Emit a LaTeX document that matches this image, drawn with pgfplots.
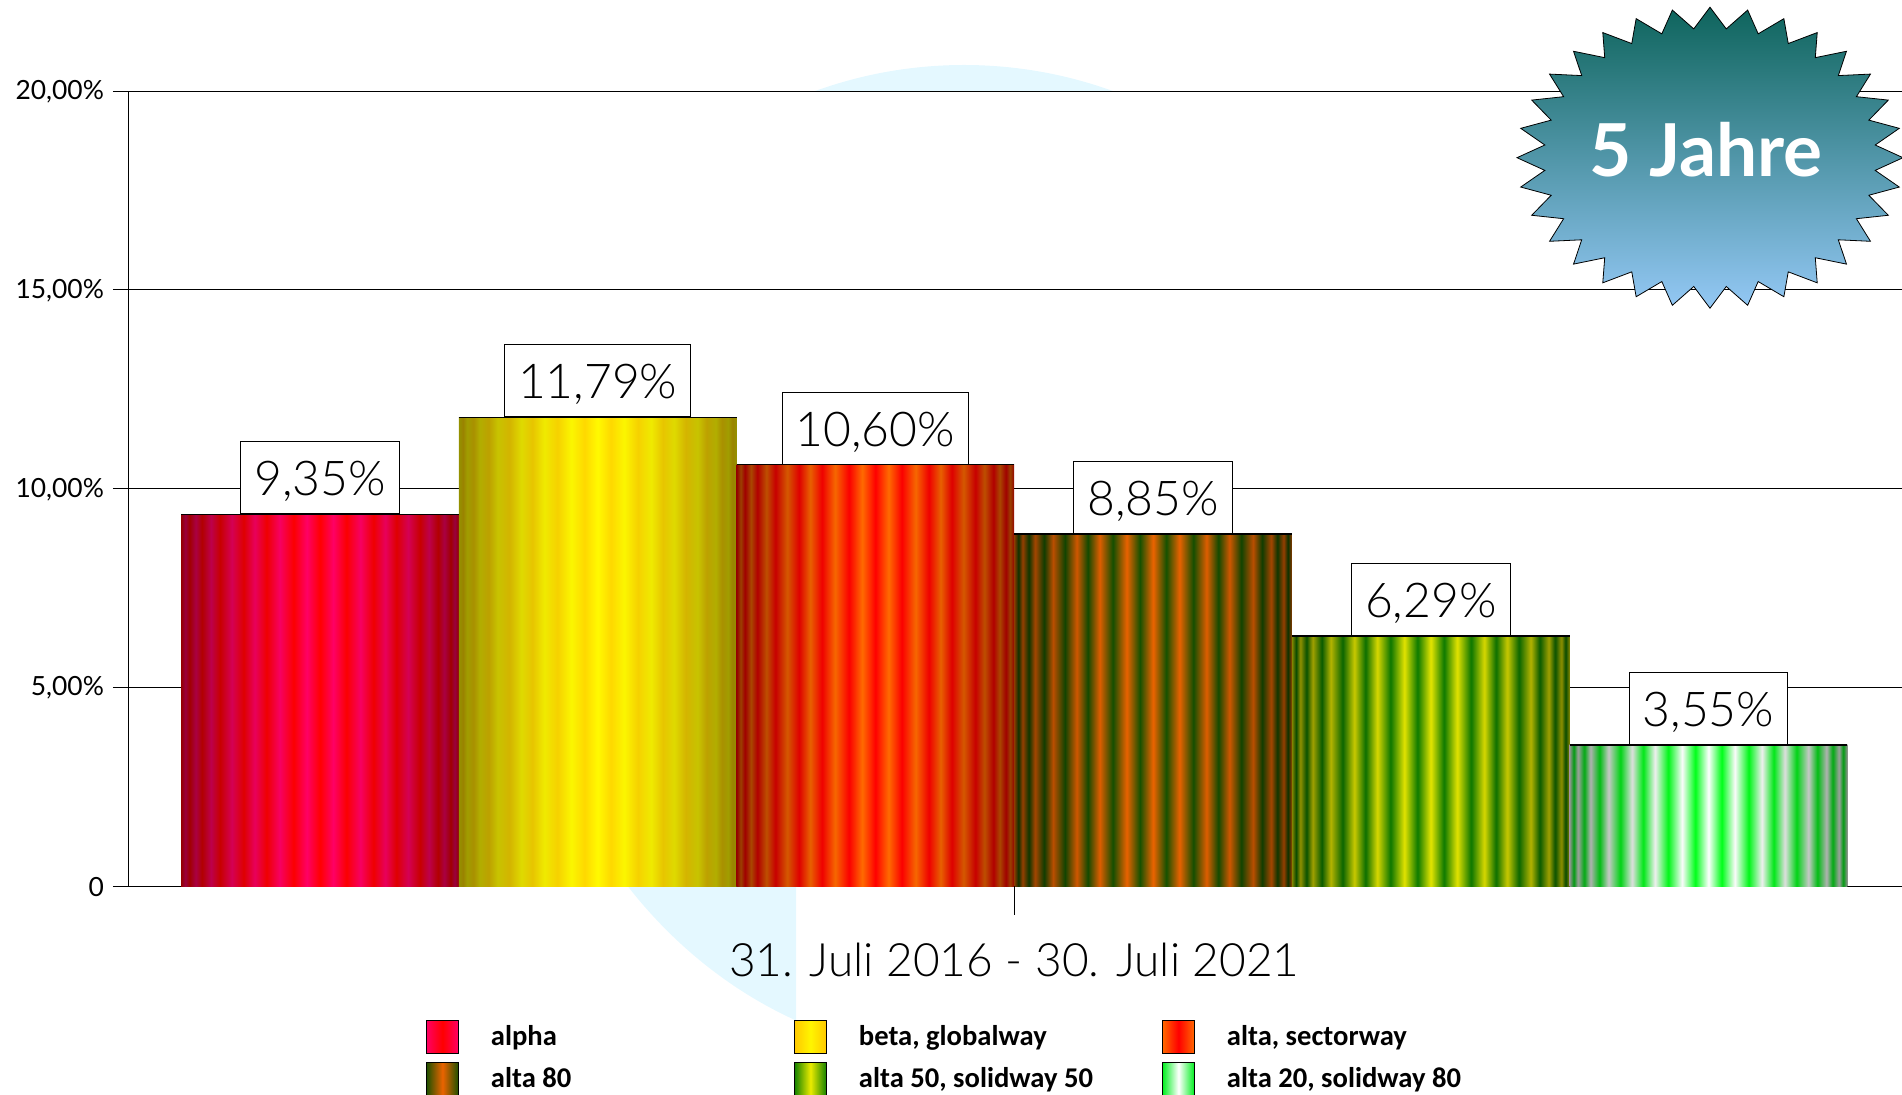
\documentclass[border=0pt]{standalone}
\usepackage{pgfplots}
\pgfplotsset{compat=1.18}
\usepackage{fontspec}
\setmainfont{Lato}
\newfontfamily\lightfont{Lato Light}
\newfontfamily\legendfont{Carlito}
\usetikzlibrary{shadings}

% stripes: peak colour #2,#3,#4 and trough colour #5,#6,#7, darker towards the edges
\newcommand\mkstripes[7]{%
  \pgfmathsetmacro\ra{0.55*#2}\pgfmathsetmacro\ga{0.55*#3}\pgfmathsetmacro\ba{0.55*#4}%
  \xdef\spec{rgb(0bp)=(\ra,\ga,\ba)}%
  \foreach \d/\k in {-1.0/1,-0.97/0,-0.94/1,-0.895/0,-0.85/1,-0.785/0,-0.72/1,-0.635/0,-0.55/1,-0.47/0,-0.385/1,-0.29/0,-0.19/1,-0.095/0,0.0/1,0.095/0,0.19/1,0.29/0,0.385/1,0.47/0,0.55/1,0.635/0,0.72/1,0.785/0,0.85/1,0.895/0,0.94/1,0.97/0,1.0/1}{%
    \pgfmathsetmacro\p{25+25*(1+\d)}%
    \pgfmathsetmacro\e{1-0.42*\d*\d}%
    \pgfmathsetmacro\r{\e*(\k*#2+(1-\k)*#5)}%
    \pgfmathsetmacro\g{\e*(\k*#3+(1-\k)*#6)}%
    \pgfmathsetmacro\b{\e*(\k*#4+(1-\k)*#7)}%
    \xdef\spec{\spec; rgb(\p bp)=(\r,\g,\b)}%
  }%
  \xdef\spec{\spec; rgb(100bp)=(\ra,\ga,\ba)}%
  \edef\tmp{\noexpand\pgfdeclarehorizontalshading{#1}{100bp}{\spec}}\tmp
}
\mkstripes{sA}{1}{0}{0}{1}{0}{0.4}
\mkstripes{sB}{1}{0.98}{0}{1}{0.85}{0}
\mkstripes{sC}{1}{0}{0}{1}{0.42}{0}
\mkstripes{sD}{0.93}{0.39}{0}{0.08}{0.32}{0}
\mkstripes{sE}{0.9}{0.9}{0}{0.05}{0.48}{0}
\mkstripes{sF}{1}{1}{1}{0}{1}{0.1}

\definecolor{star1}{RGB}{14,100,92}
\definecolor{star2}{RGB}{148,200,245}
\definecolor{blob}{RGB}{228,248,255}
\definecolor{eA}{RGB}{255,0,100}\definecolor{mA}{RGB}{255,0,0}
\definecolor{eB}{RGB}{255,200,0}\definecolor{mB}{RGB}{255,245,0}
\definecolor{eC}{RGB}{255,105,0}\definecolor{mC}{RGB}{255,0,0}
\definecolor{eD}{RGB}{30,80,0}\definecolor{mD}{RGB}{235,100,0}
\definecolor{eE}{RGB}{20,130,0}\definecolor{mE}{RGB}{235,235,0}
\definecolor{eF}{RGB}{0,240,30}\definecolor{mF}{RGB}{255,255,255}

\pgfplotsset{
  barA/.style={ybar,bar width=138.85pt,shade,shading=#1,draw=none,
    nodes near coords={\pgfmathprintnumber\pgfplotspointmeta\%},
    every node near coord/.append style={
      font=\lightfont\fontsize{24}{28}\selectfont,anchor=south,yshift=0pt,
      fill=white,draw=black,line width=0.5pt,inner xsep=6.8pt,inner ysep=0pt,
      text height=18pt,text depth=0pt,minimum height=36pt}},
  swatch/.style 2 args={legend image code/.code={%
    \node[draw=black,line width=0.5pt,inner sep=0pt,minimum width=16pt,minimum height=16.5pt,
      left color=#1,right color=#1,middle color=#2] at (8pt,0pt) {};}},
  barTop/.style={forget plot,black,line width=0.8pt},
}

\begin{document}
\begin{tikzpicture}
% pale disc behind the chart, px coordinates from the top left
\begin{scope}[x=0.5pt,y=-0.5pt,yshift=547pt]
  \begin{scope}
    \clip (0,0) rectangle (1902,91);
    \fill[blob] (964,560) ellipse [x radius=464,y radius=495];
  \end{scope}
  \begin{scope}
    \clip (0,886) rectangle (796,1094);
    \fill[blob] (964,562) ellipse [x radius=445,y radius=495];
  \end{scope}
\end{scope}
\begin{axis}[
  at={(64.5pt,104pt)}, anchor=south west,
  scale only axis, width=886.5pt, height=397.5pt,
  xmin=-0.6878, xmax=5.697, ymin=0, ymax=20,
  clip=false,
  axis x line=bottom, axis y line=left,
  axis line style={-,black,line width=0.5pt},
  ytick={0,5,10,15,20},
  yticklabels={0,{5,00\%},{10,00\%},{15,00\%},{20,00\%}},
  yticklabel style={font=\fontsize{13.2}{14}\selectfont,xshift=-1pt,yshift=-0.4pt},
  ymajorgrids, grid style={black,line width=0.5pt},
  major tick length=8pt,
  tick style={black,line width=0.5pt},
  tick align=outside,
  xtick={2.5},
  xticklabels={31. Juli 2016 - 30. Juli 2021},
  x tick style={draw=none},
  xticklabel style={font=\lightfont\fontsize{23}{27}\selectfont,yshift=-17pt},
  /pgf/number format/assume math mode=true,
  /pgf/number format/use comma,
  /pgf/number format/fixed,
  /pgf/number format/fixed zerofill,
  /pgf/number format/precision=2,
  legend columns=3,
  legend cell align=left,
  legend style={at={(axis description cs:0.1675,-0.1686)},anchor=north west,
    draw=none,fill=none,inner sep=0pt,outer sep=0pt,
    font=\legendfont\bfseries\fontsize{14.3}{15}\selectfont,
    /tikz/row sep=4pt,
    /tikz/column sep=0pt,
    nodes={inner sep=0pt,outer sep=0pt}},
]
\addplot[barA=sA,swatch={eA}{mA}] coordinates {(0,9.35)};
\addlegendentry{\hspace{16pt}\makebox[151.5pt][l]{alpha}}
\addplot[barA=sB,swatch={eB}{mB}] coordinates {(1,11.79)};
\addlegendentry{\hspace{16pt}\makebox[151.5pt][l]{beta, globalway}}
\addplot[barA=sC,swatch={eC}{mC}] coordinates {(2,10.60)};
\addlegendentry{\hspace{16pt}\makebox[151.5pt][l]{alta, sectorway}}
\addplot[barA=sD,swatch={eD}{mD}] coordinates {(3,8.85)};
\addlegendentry{\hspace{16pt}\makebox[151.5pt][l]{alta 80}}
\addplot[barA=sE,swatch={eE}{mE}] coordinates {(4,6.29)};
\addlegendentry{\hspace{16pt}\makebox[151.5pt][l]{alta 50, solidway 50}}
\addplot[barA=sF,swatch={eF}{mF}] coordinates {(5,3.55)};
\addlegendentry{\hspace{16pt}\makebox[151.5pt][l]{alta 20, solidway 80}}
% black top edge of each bar
\addplot[barTop] coordinates {(-0.5,9.35)(0.5,9.35)};
\addplot[barTop] coordinates {(0.5,11.79)(1.5,11.79)};
\addplot[barTop] coordinates {(1.5,10.60)(2.5,10.60)};
\addplot[barTop] coordinates {(2.5,8.85)(3.5,8.85)};
\addplot[barTop] coordinates {(3.5,6.29)(4.5,6.29)};
\addplot[barTop] coordinates {(4.5,3.55)(5.5,3.55)};
% the one long tick under the middle of the chart
\addplot[forget plot,black,line width=0.5pt] coordinates {(2.5,0)(2.5,-0.72)};
\end{axis}
% "5 Jahre" burst
\begin{scope}[x=0.5pt,y=-0.5pt,yshift=547pt]
  \path[draw=black,line width=0.4pt,top color=star1,bottom color=star2]
    (1710,7.2)
    \foreach \i in {1,...,63}{
      -- ({1710+193*(mod(\i,2)==1?0.86:1)*sin(\i*5.625)},
          {157.7-150.5*(mod(\i,2)==1?0.86:1)*cos(\i*5.625)})
    } -- cycle;
  \node[anchor=base,text=white,font=\bfseries\fontsize{36.5}{40}\selectfont] at (1706,177) {5 Jahre};
\end{scope}
\pgfresetboundingbox
\path[use as bounding box] (0,0) rectangle (951pt,547pt);
\end{tikzpicture}
\end{document}
